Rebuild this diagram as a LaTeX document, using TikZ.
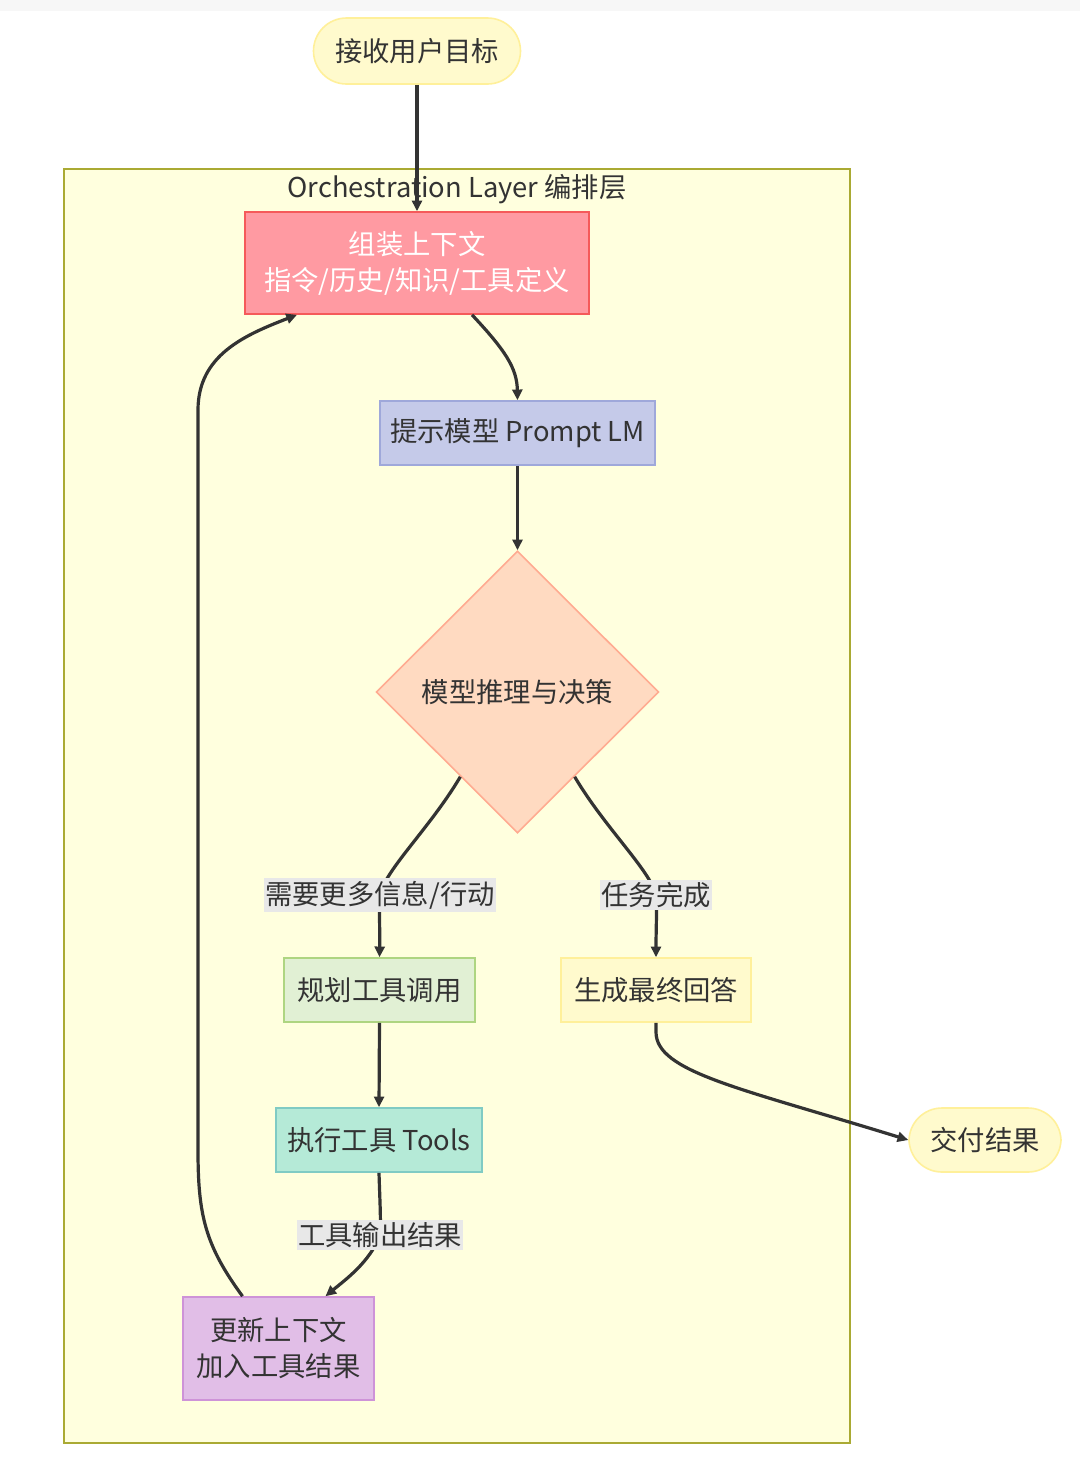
\documentclass[tikz,border=0pt]{standalone}
\usepackage{fontspec}
\setmainfont{Noto Sans CJK SC}
\usetikzlibrary{shapes.geometric,arrows.meta}
\definecolor{txt}{HTML}{333333}
\definecolor{edge}{HTML}{333333}
\definecolor{clfill}{HTML}{FFFFDE}
\definecolor{cldraw}{HTML}{AAAA33}
\definecolor{ylfill}{HTML}{FFFACD}
\definecolor{yldraw}{HTML}{FFF09A}
\definecolor{pkfill}{HTML}{FF9AA2}
\definecolor{pkdraw}{HTML}{F55A5A}
\definecolor{blfill}{HTML}{C5CAE9}
\definecolor{bldraw}{HTML}{9FA8DA}
\definecolor{orfill}{HTML}{FFDAC1}
\definecolor{ordraw}{HTML}{FFAB91}
\definecolor{gnfill}{HTML}{E1F0D4}
\definecolor{gndraw}{HTML}{AED581}
\definecolor{tlfill}{HTML}{B5EAD7}
\definecolor{tldraw}{HTML}{80CBC4}
\definecolor{pufill}{HTML}{E1BEE7}
\definecolor{pudraw}{HTML}{CE93D8}
\definecolor{lblbg}{HTML}{E8E8E8}
\begin{document}
\begin{tikzpicture}[x=0.75pt,y=-0.75pt,
  every node/.style={text=txt,font=\fontsize{20.5}{27}\selectfont,inner sep=0pt},
  box/.style={rectangle,line width=1.2pt,align=center},
  pill/.style={rectangle,rounded corners=24.75pt,line width=1.2pt,fill=ylfill,draw=yldraw},
  elabel/.style={fill=lblbg,inner xsep=1pt,inner ysep=2pt},
  conn/.style={draw=edge,line width=2.4pt,-{Triangle[length=8pt,width=7.5pt]}}]
\useasboundingbox (0,0) rectangle (1080,1465);
\fill[white] (0,0) rectangle (1080,1465);
\fill[black!3] (0,0) rectangle (1080,11);
% cluster
\draw[fill=clfill,draw=cldraw,line width=1.2pt] (64,169) rectangle (850,1443);
\node (cl) at (457,189) {Orchestration Layer 编排层};
% nodes
\node[pill,minimum width=155.25pt,minimum height=49.5pt] (start) at (417,51) {接收用户目标};
\node[box,fill=pkfill,draw=pkdraw,minimum width=258pt,minimum height=76.5pt,text=white] (ctx) at (417,263) {组装上下文\\指令/历史/知识/工具定义};
\node[box,fill=blfill,draw=bldraw,minimum width=206.25pt,minimum height=48pt] (lm) at (517.5,433) {提示模型 Prompt LM};
\node[diamond,fill=orfill,draw=ordraw,line width=1.2pt,minimum width=212pt,minimum height=211.5pt] (dec) at (517.5,692) {};
\node (dectxt) at (517.5,692) {模型推理与决策};
\node[box,fill=gnfill,draw=gndraw,minimum width=143.25pt,minimum height=48pt] (plan) at (379.5,990) {规划工具调用};
\node[box,fill=ylfill,draw=yldraw,minimum width=142.5pt,minimum height=48pt] (ans) at (656,990) {生成最终回答};
\node[box,fill=tlfill,draw=tldraw,minimum width=154.5pt,minimum height=48pt] (tools) at (379,1140) {执行工具 Tools};
\node[box,fill=pufill,draw=pudraw,minimum width=143.25pt,minimum height=77.25pt] (upd) at (278.5,1348.5) {更新上下文\\加入工具结果};
\node[pill,minimum width=114pt,minimum height=48pt] (done) at (985,1140) {交付结果};
% edges
\coordinate (l1) at (380,895);
\coordinate (l2) at (656,895);
\coordinate (l3) at (380,1235);
\draw[conn] (start.south) -- (ctx.north);
\draw[conn] ([xshift=41.25pt]ctx.south) .. controls (505,350) and (517,368) .. (lm.north);
\draw[conn] (lm.south) -- (dec.north);
\draw[conn] (dec.236) .. controls (430,828) and (385,870) .. (l1) .. controls (379,915) and (380,930) .. (plan.north);
\draw[conn] (dec.304) .. controls (605,828) and (650,870) .. (l2) .. controls (657,915) and (656,930) .. (ans.north);
\draw[conn] (plan.south) -- (tools.north);
\draw[conn] (tools.south) .. controls (380,1205) and (381,1220) .. (l3) .. controls (370,1262) and (345,1280) .. ([xshift=35.25pt]upd.north);
\draw[conn] ([xshift=-27pt]upd.north) .. controls (205,1245) and (198,1215) .. (198,1150) -- (198,410) .. controls (198,355) and (245,335) .. ([xshift=-90pt]ctx.south);
\draw[conn] (ans.south) -- (656,1032) .. controls (656,1072) and (740,1088) .. (done.west);
% edge labels
\node[elabel] at (l1) {需要更多信息/行动};
\node[elabel] at (l2) {任务完成};
\node[elabel] at (l3) {工具输出结果};
\end{tikzpicture}
\end{document}
